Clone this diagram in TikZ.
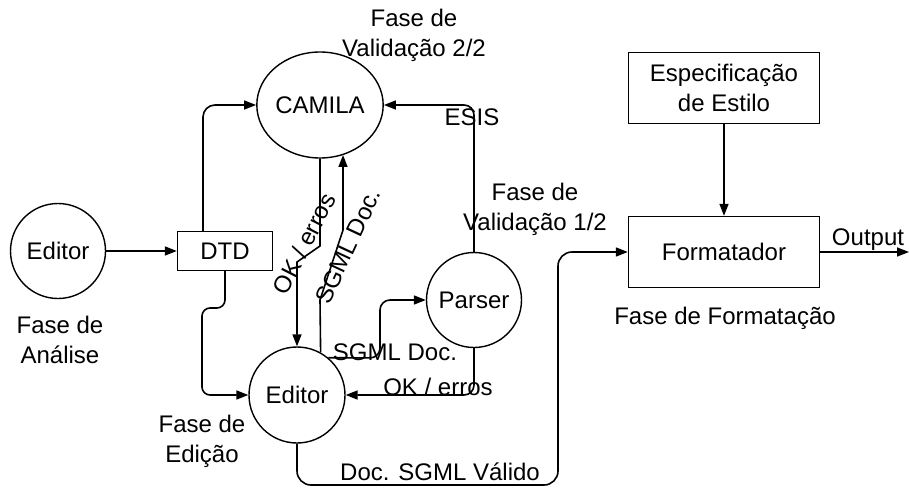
\documentclass[tikz,border=0pt]{standalone}
\usepackage{fontspec}
\setmainfont{Liberation Sans}
\usetikzlibrary{arrows.meta,shapes.geometric,calc}
\begin{document}
\begin{tikzpicture}[x=1pt,y=-1pt,
  every node/.style={font=\fontsize{24}{30}\selectfont, inner sep=0pt},
  proc/.style={draw, circle, line width=1.4pt, minimum size=95pt},
  store/.style={draw, rectangle, line width=1.4pt},
  lbl/.style={align=center},
  arr/.style={line width=1.6pt, -{Triangle[length=12pt,width=9pt]}},
  ln/.style={line width=1.6pt}]
\useasboundingbox (0,0) rectangle (909,489);
% nodes
\node[proc] (ed1) at (58,251) {Editor};
\node[store, minimum width=95pt, minimum height=39pt] (dtd) at (225,251) {DTD};
\node[draw, ellipse, line width=1.4pt, minimum width=120pt, minimum height=106pt] (cam) at (320,105) {CAMILA};
\node[proc] (parser) at (474,300) {Parser};
\node[proc, minimum size=96pt] (ed2) at (297,395) {Editor};
\node[store, minimum width=191pt, minimum height=71pt] (fmt) at (724,252) {Formatador};
\node[store, minimum width=191pt, minimum height=71pt, align=center] (spec) at (724,88) {Especificação\\de Estilo};
% labels
\node[lbl] (l1) at (60,340) {Fase de\\Análise};
\node[lbl] (l2) at (414,35) {Fase de\\Validação 2/2};
\node[lbl] (l3) at (535,209) {Fase de\\Validação 1/2};
\node[lbl] (l4) at (202,441) {Fase de\\Edição};
\node[lbl] (l5) at (725,318) {Fase de Formatação};
% coordinates
\coordinate (k1) at (320,246);
\coordinate (k2) at (297,262);
\coordinate (s1) at (320,300);
\coordinate (s2) at (343,230);
\coordinate (p1) at (380,358);
\coordinate (d1) at (202,308);
\coordinate (d2) at (558,485);
\coordinate (out) at (909,252);
% connectors
\draw[arr] (ed1) -- (dtd);
\draw[arr, rounded corners=12pt] ([xshift=-22pt]dtd.north) |- (cam.west);
\draw[arr] (cam.south) -- (k1) -- (k2) -- (ed2.north);
\draw[arr] (ed2.61) -- (s1) -- (s2) -- (s2 |- cam.-65);
\draw[arr, rounded corners=10pt] (ed2.50) -- (p1) |- (parser.west);
\draw[arr, rounded corners=10pt] (parser.south) |- (ed2.east);
\draw[arr, rounded corners=10pt] (parser.north) |- (cam.east);
\draw[arr, rounded corners=8pt] (dtd.south) |- (d1) |- (ed2.west);
\draw[arr, rounded corners=14pt] (ed2.south) |- (d2) |- (fmt.west);
\draw[arr] (spec) -- (fmt);
\draw[arr] (fmt.east) -- (out);
% connector labels
\node (t1) at (472,117) {ESIS};
\node[rotate=63] (t2) at (304,244) {OK / erros};
\node[rotate=65] (t3) at (348,246) {SGML Doc.};
\node (t4) at (395,352) {SGML Doc.};
\node (t5) at (438,387) {OK / erros};
\node (t6) at (440,472) {Doc. SGML Válido};
\node (t7) at (868,240) {Output};
\end{tikzpicture}
\end{document}
